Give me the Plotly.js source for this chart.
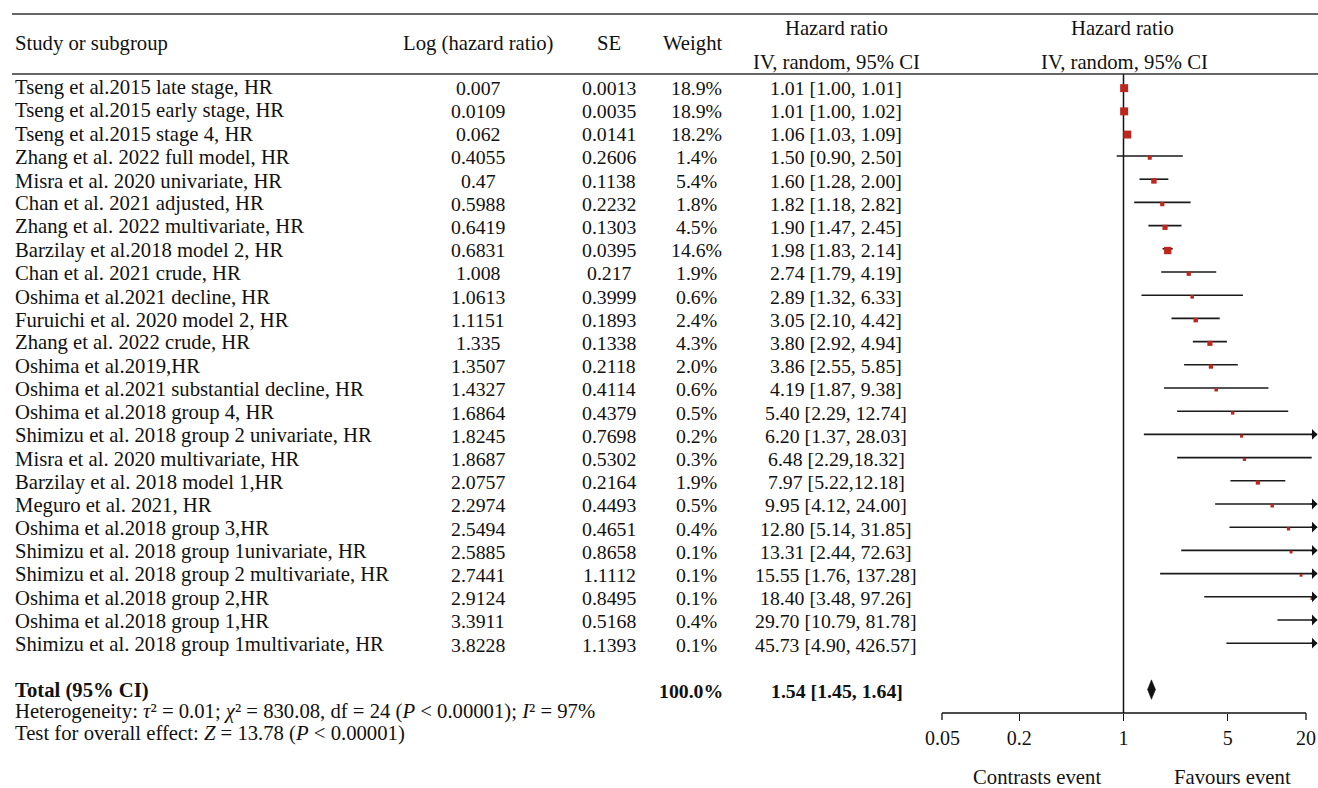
<!DOCTYPE html>
<html>
<head>
<meta charset="utf-8">
<script src="https://cdn.plot.ly/plotly-3.0.1.min.js"></script>
<style>html,body{margin:0;padding:0;background:#fff;}#chart{width:1318px;height:788px;}</style>
</head>
<body>
<div id="chart"></div>
<script>
// ---------- data ----------
const studies = [
  "Tseng et al.2015 late stage, HR",
  "Tseng et al.2015 early stage, HR",
  "Tseng et al.2015 stage 4, HR",
  "Zhang et al. 2022 full model, HR",
  "Misra et al. 2020 univariate, HR",
  "Chan et al. 2021 adjusted, HR",
  "Zhang et al. 2022 multivariate, HR",
  "Barzilay et al.2018 model 2, HR",
  "Chan et al. 2021 crude, HR",
  "Oshima et al.2021 decline, HR",
  "Furuichi et al. 2020 model 2, HR",
  "Zhang et al. 2022 crude, HR",
  "Oshima et al.2019,HR",
  "Oshima et al.2021 substantial decline, HR",
  "Oshima et al.2018 group 4, HR",
  "Shimizu et al. 2018 group 2 univariate, HR",
  "Misra et al. 2020 multivariate, HR",
  "Barzilay et al. 2018 model 1,HR",
  "Meguro et al. 2021, HR",
  "Oshima et al.2018 group 3,HR",
  "Shimizu et al. 2018 group 1univariate, HR",
  "Shimizu et al. 2018 group 2 multivariate, HR",
  "Oshima et al.2018 group 2,HR",
  "Oshima et al.2018 group 1,HR",
  "Shimizu et al. 2018 group 1multivariate, HR"
];
const logHR = ["0.007","0.0109","0.062","0.4055","0.47","0.5988","0.6419","0.6831","1.008","1.0613","1.1151","1.335","1.3507","1.4327","1.6864","1.8245","1.8687","2.0757","2.2974","2.5494","2.5885","2.7441","2.9124","3.3911","3.8228"];
const seVals = ["0.0013","0.0035","0.0141","0.2606","0.1138","0.2232","0.1303","0.0395","0.217","0.3999","0.1893","0.1338","0.2118","0.4114","0.4379","0.7698","0.5302","0.2164","0.4493","0.4651","0.8658","1.1112","0.8495","0.5168","1.1393"];
const weights = [18.9,18.9,18.2,1.4,5.4,1.8,4.5,14.6,1.9,0.6,2.4,4.3,2.0,0.6,0.5,0.2,0.3,1.9,0.5,0.4,0.1,0.1,0.1,0.4,0.1];
const hr   = [1.01,1.01,1.06,1.50,1.60,1.82,1.90,1.98,2.74,2.89,3.05,3.80,3.86,4.19,5.40,6.20,6.48,7.97,9.95,12.80,13.31,15.55,18.40,29.70,45.73];
const ciLo = [1.00,1.00,1.03,0.90,1.28,1.18,1.47,1.83,1.79,1.32,2.10,2.92,2.55,1.87,2.29,1.37,2.29,5.22,4.12,5.14,2.44,1.76,3.48,10.79,4.90];
const ciHi = [1.01,1.02,1.09,2.50,2.00,2.82,2.45,2.14,4.19,6.33,4.42,4.94,5.85,9.38,12.74,28.03,18.32,12.18,24.00,31.85,72.63,137.28,97.26,81.78,426.57];
const ciText = ["1.01 [1.00, 1.01]","1.01 [1.00, 1.02]","1.06 [1.03, 1.09]","1.50 [0.90, 2.50]","1.60 [1.28, 2.00]","1.82 [1.18, 2.82]","1.90 [1.47, 2.45]","1.98 [1.83, 2.14]","2.74 [1.79, 4.19]","2.89 [1.32, 6.33]","3.05 [2.10, 4.42]","3.80 [2.92, 4.94]","3.86 [2.55, 5.85]","4.19 [1.87, 9.38]","5.40 [2.29, 12.74]","6.20 [1.37, 28.03]","6.48 [2.29,18.32]","7.97 [5.22,12.18]","9.95 [4.12, 24.00]","12.80 [5.14, 31.85]","13.31 [2.44, 72.63]","15.55 [1.76, 137.28]","18.40 [3.48, 97.26]","29.70 [10.79, 81.78]","45.73 [4.90, 426.57]"];
const total = {hr: 1.54, lo: 1.45, hi: 1.64, weight: "100.0%", text: "1.54 [1.45, 1.64]"};
const heterogeneity = "Heterogeneity: <i>τ</i>² = 0.01; <i>χ</i>² = 830.08, df = 24 (<i>P</i> &lt; 0.00001); <i>I</i>² = 97%";
const overallTest = "Test for overall effect: <i>Z</i> = 13.78 (<i>P</i> &lt; 0.00001)";
const tickVals = [0.2, 1, 5];
const axisMin = 0.05, axisMax = 20;
const favourLeft = "Contrasts event", favourRight = "Favours event";

// ---------- layout helpers ----------
const W = 1318, H = 788;
const ROW0 = 86.4, ROWH = 23.2;           // pixel y of first row and row spacing
const rowOf = py => (py - ROW0) / ROWH;    // pixel -> row units
const px = x => x / W;                      // pixel -> paper x
const FONT = "'Liberation Serif', 'Times New Roman', serif";
const FS_W = 20.7;   // word texts
const FS_N = 19.8;   // numeric columns
const TXT_DY = 0.06;
const SQ_DY = 0.075;
const n = studies.length;
const totalRow = 26;

const ann = [];
function txt(x, y, text, anchor, size) {
  ann.push({
    xref: 'paper', yref: 'y', x: px(x), y: y, text: text, showarrow: false,
    xanchor: anchor || 'center', yanchor: 'middle',
    font: {family: FONT, size: size || FS_W, color: '#111'}
  });
}

// headers
txt(13, rowOf(43), "Study or subgroup", 'left');
txt(478, rowOf(43), "Log (hazard ratio)");
txt(609, rowOf(43), "SE");
txt(692, rowOf(43), "Weight");
txt(836, rowOf(28), "Hazard ratio");
txt(836, rowOf(62), "IV, random, 95% CI");
txt(1122, rowOf(28), "Hazard ratio");
txt(1124, rowOf(62), "IV, random, 95% CI");

// rows
for (let i = 0; i < n; i++) {
  const y = i + TXT_DY;
  txt(13, y, studies[i], 'left');
  txt(478, y, logHR[i], 'center', FS_N);
  txt(609, y, seVals[i], 'center', FS_N);
  txt(696, y, weights[i].toFixed(1) + "%", 'center', FS_N);
  txt(836, y, ciText[i], 'center', FS_N);
}
// total
txt(13, totalRow + TXT_DY, "<b>Total (95% CI)</b>", 'left');
txt(691, totalRow + TXT_DY, "<b>" + total.weight + "</b>", 'center', FS_N);
txt(837, totalRow + TXT_DY, "<b>" + total.text + "</b>", 'center', FS_N);
txt(13, rowOf(711), heterogeneity, 'left');
txt(13, rowOf(733), overallTest, 'left');
txt(1037, rowOf(777), favourLeft);
txt(1232, rowOf(777), favourRight);
// axis end labels
txt(942, rowOf(738), String(axisMin), 'center', 20);
txt(1306, rowOf(738), String(axisMax), 'center', 20);

// arrowheads for CIs running past the axis maximum
for (let i = 0; i < n; i++) {
  if (ciHi[i] > axisMax) {
    ann.push({xref: 'x', yref: 'y', x: Math.log10(axisMax), y: i, ax: -8, ay: 0,
      text: '', showarrow: true, arrowhead: 1, arrowsize: 1.2, arrowwidth: 1.5,
      arrowcolor: '#111', standoff: 0});
  }
}

// CI lines (clipped at axis maximum)
const lx = [], ly = [];
for (let i = 0; i < n; i++) {
  lx.push(ciLo[i], Math.min(ciHi[i], axisMax), null);
  ly.push(i, i, null);
}

const traces = [
  {type: 'scatter', mode: 'lines', x: [1, 1], y: [rowOf(74), rowOf(713)],
   line: {color: '#111', width: 1.5}, hoverinfo: 'skip', showlegend: false},
  {type: 'scatter', mode: 'lines', x: lx, y: ly, line: {color: '#1a1a1a', width: 1.6},
   hoverinfo: 'skip', showlegend: false},
  {type: 'scatter', mode: 'markers', x: hr, y: hr.map((_, i) => i + SQ_DY),
   marker: {symbol: 'square', color: '#bf261d', opacity: 1,
            size: weights.map(w => 2.5 + 1.26 * Math.sqrt(w)), line: {width: 0}},
   showlegend: false},
  {type: 'scatter', mode: 'lines', fill: 'toself', fillcolor: '#111',
   x: [total.lo, total.hr, total.hi, total.hr, total.lo],
   y: [totalRow, totalRow - 0.42, totalRow, totalRow + 0.42, totalRow],
   line: {color: '#111', width: 0.5}, hoverinfo: 'skip', showlegend: false}
];

const axisY = rowOf(713);
const tickLen = 7 / ROWH;
const shapes = [
  {type: 'line', xref: 'paper', yref: 'y', x0: px(12), x1: 1, y0: rowOf(14), y1: rowOf(14), line: {color: '#333', width: 1.6}},
  {type: 'line', xref: 'paper', yref: 'y', x0: px(12), x1: 1, y0: rowOf(74), y1: rowOf(74), line: {color: '#333', width: 1.6}},
  {type: 'line', xref: 'paper', yref: 'y', x0: px(942), x1: px(1306), y0: axisY, y1: axisY, line: {color: '#111', width: 1.3}},
  {type: 'line', xref: 'paper', yref: 'y', x0: px(942), x1: px(942), y0: axisY, y1: axisY + tickLen, line: {color: '#111', width: 1.3}},
  {type: 'line', xref: 'paper', yref: 'y', x0: px(1306), x1: px(1306), y0: axisY, y1: axisY + tickLen, line: {color: '#111', width: 1.3}}
];

const layout = {
  width: W, height: H,
  margin: {l: 0, r: 0, t: 0, b: 0},
  paper_bgcolor: '#fff', plot_bgcolor: 'rgba(0,0,0,0)',
  showlegend: false,
  xaxis: {
    type: 'log', domain: [929.6 / W, 1317.4 / W],
    range: [Math.log10(axisMin), Math.log10(axisMax)],
    tickvals: tickVals, ticktext: tickVals.map(String),
    ticks: 'outside', ticklen: 7, tickwidth: 1.3, tickcolor: '#111',
    showgrid: false, zeroline: false, showline: false,
    anchor: 'free', position: (H - 713) / H,
    tickfont: {family: FONT, size: 20, color: '#111'},
    fixedrange: true
  },
  yaxis: {
    range: [rowOf(H), rowOf(0)], domain: [0, 1], visible: false, fixedrange: true
  },
  annotations: ann,
  shapes: shapes
};

Plotly.newPlot('chart', traces, layout, {displayModeBar: false, staticPlot: true});
</script>
</body>
</html>
